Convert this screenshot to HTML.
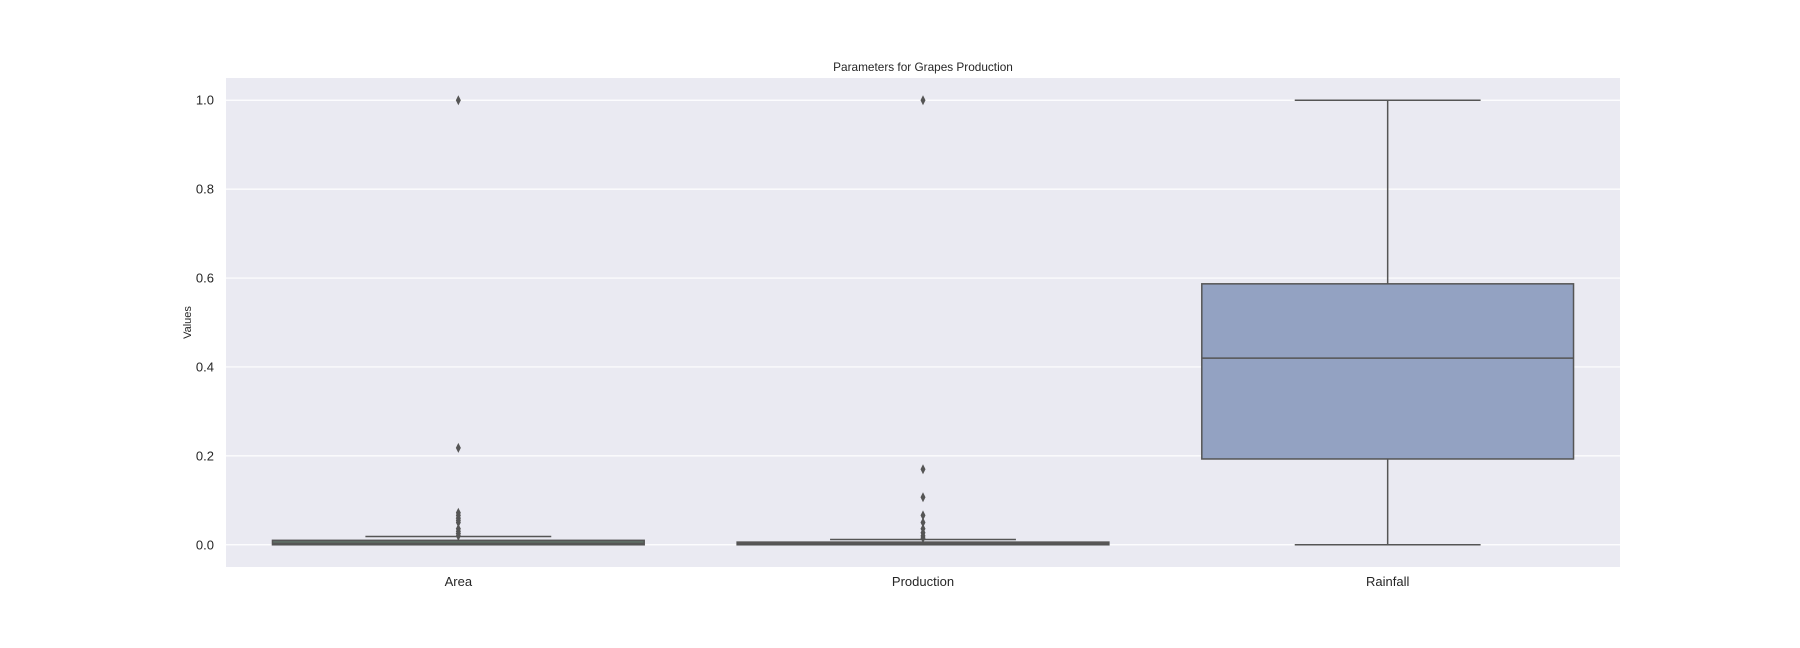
<!DOCTYPE html>
<html><head><meta charset="utf-8"><style>
body{margin:0;background:#fff;}
svg{display:block;font-family:"Liberation Sans",sans-serif;}
</style></head><body>
<svg id="chart" width="1800" height="648"></svg>
<script>
const categories=["Area","Production","Rainfall"];
const q1=[0,0,0.193];
const median=[0.003,0.002,0.42];
const q3=[0.01,0.006,0.587];
const whiskerLow=[0,0,0];
const whiskerHigh=[0.0186,0.012,1.0];
const outliersArea=[1.0,0.218,0.072,0.066,0.06,0.055,0.05,0.036,0.03,0.025,0.02];
const outliersProduction=[1.0,0.17,0.107,0.066,0.05,0.036,0.027,0.02,0.015];
const outliersRainfall=[];
const yTicks=[0,0.2,0.4,0.6,0.8,1.0];
const tickLabels=["0.0","0.2","0.4","0.6","0.8","1.0"];
const fills=["#5f6e65","#6a645e","#93a2c2"];

const NS="http://www.w3.org/2000/svg";
const svg=document.getElementById('chart');
const L=226,R=1620,T=78,B=567,ymin=-0.05,ymax=1.05;
const y=v=>B-(v-ymin)/(ymax-ymin)*(B-T);
const band=(R-L)/categories.length;
const xc=i=>L+band*(i+0.5);
function mk(tag,attrs,parent){const e=document.createElementNS(NS,tag);for(const k in attrs)e.setAttribute(k,attrs[k]);(parent||svg).appendChild(e);return e;}

const bg=mk('rect',{x:L,y:T,width:R-L,height:B-T,fill:'#eaeaf2'});



yTicks.forEach((t,i)=>{
  const g=mk('line',{x1:L,x2:R,y1:y(t),y2:y(t),stroke:'#fff','stroke-width':1.2});
  
  
  const tx=mk('text',{x:L-12,y:y(t)+4.5,'text-anchor':'end','font-size':13,fill:'#262626'});
  tx.textContent=tickLabels[i];
  
  
});

const outs=[outliersArea,outliersProduction,outliersRainfall];
categories.forEach((c,i)=>{
  const cx=xc(i),w=band*0.8,cw=w/2;
  const g=mk('g',{});
  
  
  const col='#555';
  mk('line',{x1:cx,x2:cx,y1:y(q3[i]),y2:y(whiskerHigh[i]),stroke:col,'stroke-width':1.5},g);
  mk('line',{x1:cx,x2:cx,y1:y(q1[i]),y2:y(whiskerLow[i]),stroke:col,'stroke-width':1.5},g);
  mk('line',{x1:cx-cw/2,x2:cx+cw/2,y1:y(whiskerHigh[i]),y2:y(whiskerHigh[i]),stroke:col,'stroke-width':1.5},g);
  mk('line',{x1:cx-cw/2,x2:cx+cw/2,y1:y(whiskerLow[i]),y2:y(whiskerLow[i]),stroke:col,'stroke-width':1.5},g);
  mk('rect',{x:cx-w/2,y:y(q3[i]),width:w,height:Math.max(y(q1[i])-y(q3[i]),0.5),fill:fills[i],stroke:col,'stroke-width':1.5},g);
  mk('line',{x1:cx-w/2,x2:cx+w/2,y1:y(median[i]),y2:y(median[i]),stroke:col,'stroke-width':1.5},g);
  outs[i].forEach(v=>{
    const py=y(v);
    const d=mk('path',{d:`M${cx} ${py-5}L${cx+2.5} ${py}L${cx} ${py+5}L${cx-2.5} ${py}Z`,fill:'#555'},g);
    
    
  });
  const lb=mk('text',{x:cx,y:586,'text-anchor':'middle','font-size':13,fill:'#262626'});
  lb.textContent=c;
  
  
});

const title=mk('text',{x:(L+R)/2,y:71,'text-anchor':'middle','font-size':11.8,fill:'#262626'});
title.textContent='Parameters for Grapes Production';


const yl=mk('text',{x:0,y:0,'text-anchor':'middle','font-size':11,fill:'#262626',transform:`translate(191,${(T+B)/2}) rotate(-90)`});
yl.textContent='Values';


</script>
</body></html>
